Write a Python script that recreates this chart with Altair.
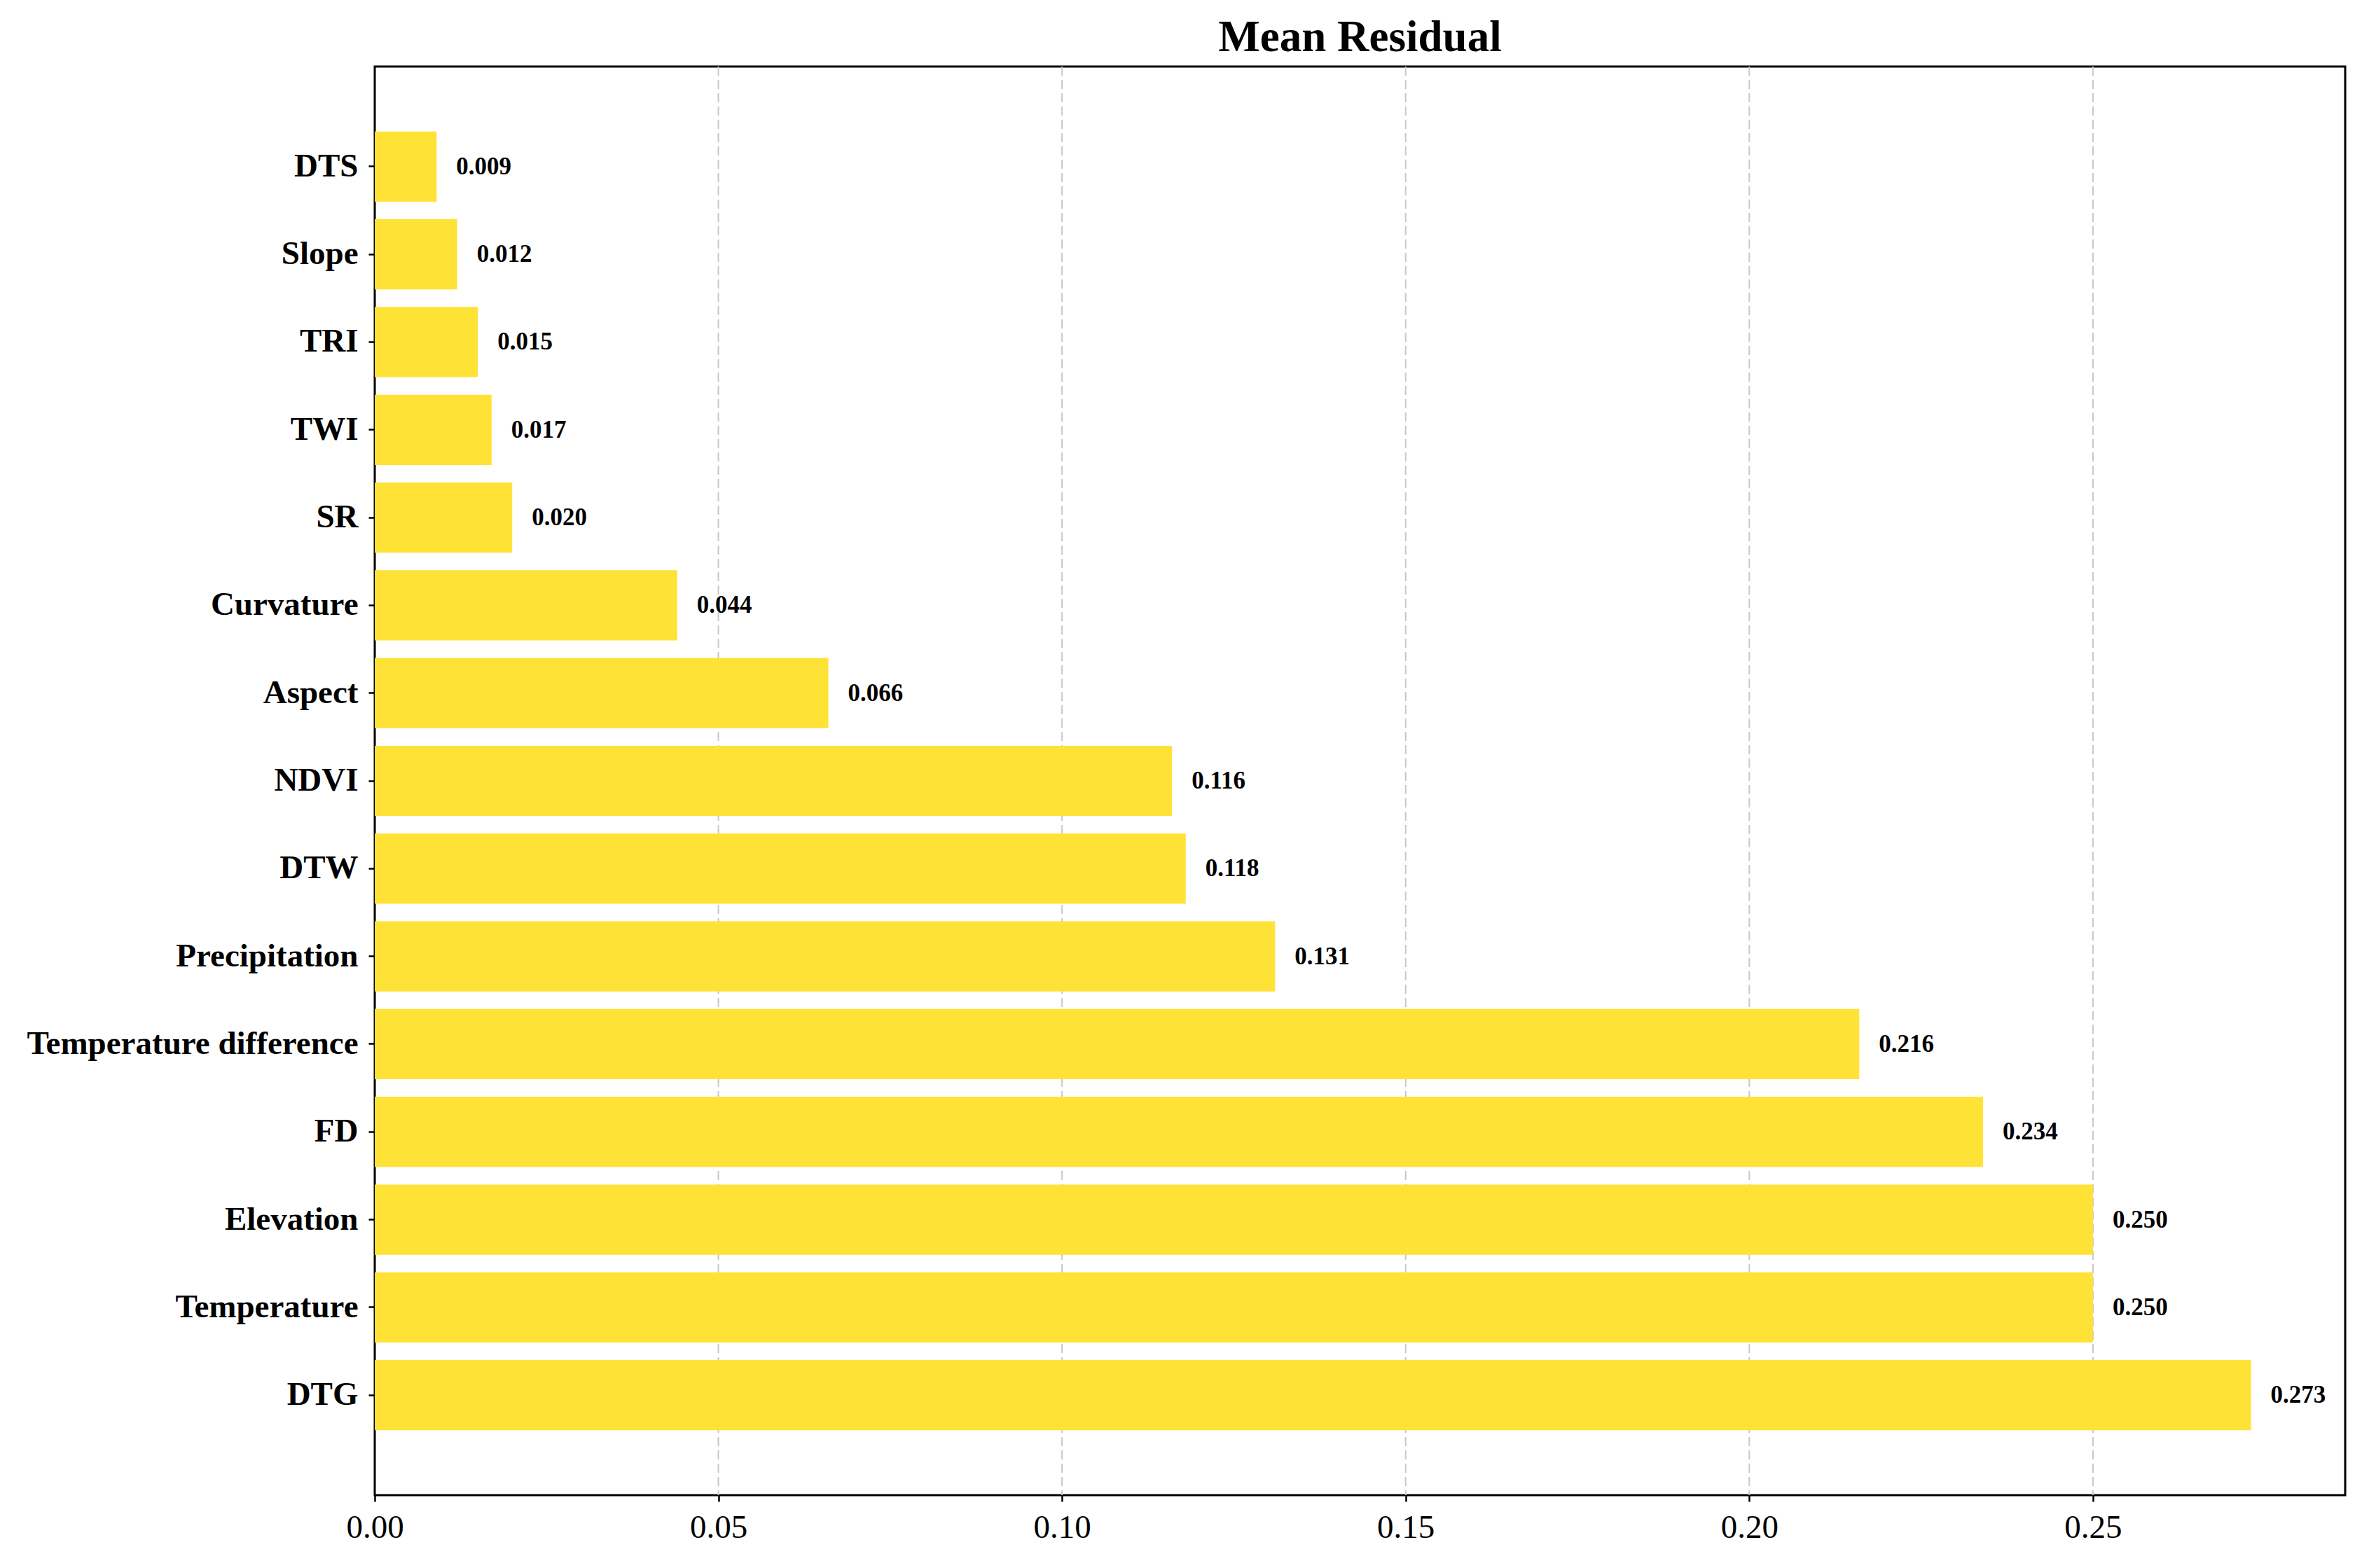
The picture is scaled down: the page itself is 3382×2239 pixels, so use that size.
import altair as alt
import pandas as pd

features = ["DTS", "Slope", "TRI", "TWI", "SR", "Curvature", "Aspect", "NDVI", "DTW",
            "Precipitation", "Temperature difference", "FD", "Elevation", "Temperature", "DTG"]
values = [0.009, 0.012, 0.015, 0.017, 0.020, 0.044, 0.066, 0.116, 0.118,
          0.131, 0.216, 0.234, 0.250, 0.250, 0.273]
x_ticks = [0.00, 0.05, 0.10, 0.15, 0.20, 0.25]
grid_values = [0.05, 0.10, 0.15, 0.20, 0.25]

df = pd.DataFrame({"feature": features, "value": values})
grid_df = pd.DataFrame({"g": grid_values})

FONT = "Liberation Serif"

x_scale = alt.Scale(domain=[0, 0.2867], nice=False, zero=True)

y_enc = alt.Y("feature:N", sort=features,
              scale=alt.Scale(paddingInner=0.2, paddingOuter=0.74),
              axis=alt.Axis(title=None, labelFont=FONT, labelFontSize=47, labelFontWeight="bold",
                            labelColor="black", labelLimit=2000, tickSize=9, tickWidth=2.5,
                            tickColor="black", labelPadding=15, domain=False, grid=False))

x_enc = alt.X("value:Q", scale=x_scale,
              axis=alt.Axis(title=None, values=x_ticks, format=".2f", labelFont=FONT,
                            labelFontSize=47, labelColor="black", labelFlush=False,
                            tickSize=9, tickWidth=2.5, tickColor="black", labelPadding=14,
                            domain=False, grid=False))

grid = alt.Chart(grid_df).mark_rule(color="#c8c8c8", strokeDash=[13, 6], strokeWidth=2).encode(
    x=alt.X("g:Q", scale=x_scale))

bars = alt.Chart(df).mark_bar(color="#FFE236").encode(x=x_enc, y=y_enc)

labels = alt.Chart(df).mark_text(align="left", baseline="middle", dx=28, font=FONT,
                                 fontSize=35, fontWeight="bold", color="black").encode(
    x=alt.X("value:Q"), y=alt.Y("feature:N", sort=features),
    text=alt.Text("value:Q", format=".3f"))

chart = (grid + bars + labels).properties(
    width=2813, height=2040,
    title=alt.TitleParams("Mean Residual", font=FONT, fontSize=63, fontWeight="bold",
                          color="black", anchor="middle", offset=8),
    autosize=alt.AutoSizeParams(type="none"),
    padding={"left": 527, "top": 87, "right": 20, "bottom": 90},
).configure(background="white").configure_view(stroke="black", strokeWidth=3)

chart.save("out.html", embed_options={"renderer": "svg", "actions": False})
